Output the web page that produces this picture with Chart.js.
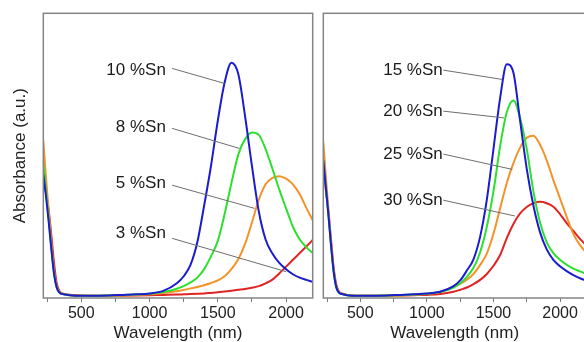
<!DOCTYPE html>
<html>
<head>
<meta charset="utf-8">
<script src="https://cdn.jsdelivr.net/npm/chart.js@4.4.1/dist/chart.umd.min.js"></script>
<style>
  html, body { margin: 0; padding: 0; overflow: hidden; background: #fff; width: 584px; height: 342px; }
  canvas { position: absolute; top: 0; }
  #left { left: 0; }
  #right { left: 300px; }
</style>
</head>
<body>
<canvas id="left" width="320" height="342"></canvas>
<canvas id="right" width="300" height="342"></canvas>
<script>
// ---- Data (wavelength in nm, absorbance in a.u.) ----
const wavelengths = [222, 240, 260, 280, 300, 320, 340, 370, 400, 500, 600, 700, 800, 900, 1000, 1100, 1200, 1250, 1300, 1350, 1400, 1450, 1500, 1550, 1600, 1650, 1700, 1750, 1800, 1850, 1900, 1950, 2000, 2050, 2100, 2150, 2195];

// Tick marks and tick labels of the wavelength axis
const tickValues = [250, 500, 750, 1000, 1250, 1500, 1750, 2000];
const tickLabels = ["", "500", "", "1000", "", "1500", "", "2000"];

// Left panel
const sn10 = [0.43, 0.36, 0.27, 0.17, 0.08, 0.03, 0.012, 0.006, 0.004, 0.001, 0.001, 0.002, 0.004, 0.006, 0.009, 0.018, 0.045, 0.07, 0.11, 0.19, 0.32, 0.46, 0.62, 0.755, 0.825, 0.785, 0.635, 0.46, 0.30, 0.20, 0.15, 0.117, 0.095, 0.077, 0.065, 0.057, 0.050];
const sn8  = [0.47, 0.38, 0.28, 0.175, 0.085, 0.032, 0.013, 0.007, 0.004, 0.001, 0.001, 0.002, 0.003, 0.005, 0.008, 0.014, 0.026, 0.035, 0.048, 0.065, 0.095, 0.14, 0.195, 0.29, 0.40, 0.50, 0.555, 0.578, 0.57, 0.52, 0.45, 0.377, 0.31, 0.245, 0.20, 0.172, 0.152];
const sn5  = [0.55, 0.43, 0.31, 0.19, 0.09, 0.034, 0.014, 0.007, 0.004, 0.001, 0.001, 0.001, 0.002, 0.003, 0.006, 0.011, 0.017, 0.021, 0.027, 0.032, 0.038, 0.046, 0.055, 0.07, 0.095, 0.13, 0.185, 0.26, 0.34, 0.395, 0.418, 0.424, 0.415, 0.395, 0.36, 0.31, 0.268];
const sn3  = [0.40, 0.37, 0.31, 0.22, 0.12, 0.045, 0.018, 0.008, 0.005, 0.002, 0.001, 0.001, 0.001, 0.002, 0.003, 0.004, 0.005, 0.006, 0.007, 0.008, 0.009, 0.011, 0.013, 0.016, 0.019, 0.022, 0.025, 0.029, 0.035, 0.045, 0.058, 0.08, 0.104, 0.128, 0.152, 0.176, 0.198];

// Right panel
const sn15 = [0.48, 0.39, 0.29, 0.18, 0.085, 0.03, 0.012, 0.006, 0.003, 0.001, 0.001, 0.002, 0.004, 0.006, 0.009, 0.015, 0.035, 0.055, 0.09, 0.13, 0.21, 0.34, 0.52, 0.70, 0.82, 0.79, 0.62, 0.45, 0.32, 0.225, 0.165, 0.128, 0.105, 0.088, 0.074, 0.063, 0.055];
const sn20 = [0.48, 0.39, 0.29, 0.18, 0.085, 0.03, 0.012, 0.006, 0.003, 0.001, 0.001, 0.002, 0.003, 0.005, 0.008, 0.014, 0.03, 0.045, 0.068, 0.10, 0.155, 0.245, 0.37, 0.53, 0.65, 0.692, 0.63, 0.52, 0.37, 0.26, 0.19, 0.152, 0.128, 0.11, 0.097, 0.087, 0.078];
const sn25 = [0.545, 0.43, 0.31, 0.19, 0.09, 0.034, 0.014, 0.007, 0.004, 0.001, 0.001, 0.001, 0.002, 0.004, 0.007, 0.015, 0.032, 0.043, 0.058, 0.078, 0.11, 0.15, 0.22, 0.31, 0.40, 0.47, 0.525, 0.56, 0.567, 0.535, 0.48, 0.41, 0.345, 0.28, 0.22, 0.18, 0.155];
const sn30 = [0.46, 0.38, 0.30, 0.20, 0.10, 0.04, 0.016, 0.008, 0.004, 0.001, 0.001, 0.001, 0.002, 0.003, 0.004, 0.007, 0.015, 0.022, 0.03, 0.042, 0.057, 0.078, 0.107, 0.145, 0.205, 0.255, 0.292, 0.315, 0.328, 0.333, 0.328, 0.316, 0.29, 0.258, 0.23, 0.202, 0.18];

// Labels (annotation positions in data units)
const leftLabels = ["10 %Sn", "8 %Sn", "5 %Sn", "3 %Sn"];
const leftLabelAbs = [0.80, 0.597, 0.399, 0.223];
const leftLeaderStartAbs = [0.805, 0.593, 0.392, 0.204];
const leftLeaderEndWl = [1549, 1659, 1769, 2001];
const leftLeaderEndAbs = [0.752, 0.522, 0.31, 0.086];

const rightLabels = ["15 %Sn", "20 %Sn", "25 %Sn", "30 %Sn"];
const rightLabelAbs = [0.799, 0.654, 0.502, 0.339];
const rightLeaderEndWl = [1567, 1579, 1641, 1661];
const rightLeaderEndAbs = [0.766, 0.630, 0.448, 0.283];

const colors = { blue: '#1c1ccf', green: '#2ee02e', orange: '#f5922a', red: '#e02424' };
const FONT = 'Liberation Sans, Arial, Helvetica, sans-serif';

function pts(vals) { return wavelengths.map((w, i) => ({ x: w, y: vals[i] })); }
function ds(vals, color) {
  return { data: pts(vals), borderColor: color, borderWidth: 2, pointRadius: 0,
           tension: 0.4, cubicInterpolationMode: 'monotone', fill: false };
}

function annotPlugin(labels, labelWl, labelAbs, startWl, startAbs, endWl, endAbs) {
  return {
    id: 'annot',
    afterDraw(chart) {
      const { ctx, chartArea: a, scales: { x, y } } = chart;
      ctx.save();
      ctx.strokeStyle = '#858585';
      ctx.lineWidth = 1.5;
      ctx.strokeRect(a.left, a.top, a.right - a.left, a.bottom - a.top);
      ctx.font = '17px ' + FONT;
      ctx.fillStyle = '#1a1a1a';
      ctx.textAlign = 'right';
      ctx.textBaseline = 'middle';
      labels.forEach((t, i) => {
        ctx.fillText(t, x.getPixelForValue(labelWl), y.getPixelForValue(labelAbs[i]));
        ctx.beginPath();
        ctx.strokeStyle = '#6e6e6e';
        ctx.lineWidth = 1;
        ctx.moveTo(x.getPixelForValue(startWl), y.getPixelForValue(startAbs[i]));
        ctx.lineTo(x.getPixelForValue(endWl[i]), y.getPixelForValue(endAbs[i]));
        ctx.stroke();
      });
      ctx.restore();
    }
  };
}

function xScale(minV, maxV) {
  return {
    type: 'linear', min: minV, max: maxV,
    afterBuildTicks: s => { s.ticks = tickValues.map(v => ({ value: v })); },
    ticks: {
      autoSkip: false, maxRotation: 0, padding: 2,
      color: '#222', font: { family: FONT, size: 16 },
      callback: (v, i) => tickLabels[i]
    },
    grid: { drawOnChartArea: false, drawTicks: true, tickLength: 4, color: '#7a7a7a', lineWidth: 1 },
    border: { display: false },
    title: { display: true, text: 'Wavelength (nm)', color: '#222',
             font: { family: FONT, size: 17, lineHeight: 1 }, padding: { top: 0, bottom: 0 } },
    afterFit: s => { s.height = 44; }
  };
}

const yMin = -0.007, yMax = 1.0;

new Chart(document.getElementById('left'), {
  type: 'line',
  data: { datasets: [ds(sn10, colors.blue), ds(sn8, colors.green), ds(sn5, colors.orange), ds(sn3, colors.red)] },
  options: {
    responsive: false, animation: false, devicePixelRatio: 1,
    layout: { padding: { left: 0, right: 7.3, top: 13.3, bottom: 0 } },
    plugins: { legend: { display: false }, tooltip: { enabled: false } },
    scales: {
      x: xScale(222, 2195),
      y: {
        min: yMin, max: yMax,
        ticks: { display: false },
        grid: { display: false },
        border: { display: false },
        title: { display: true, text: 'Absorbance (a.u.)', color: '#222',
                 font: { family: FONT, size: 17, lineHeight: 1 }, padding: { top: 12, bottom: 0 } },
        afterFit: s => { s.width = 43.3; }
      }
    }
  },
  plugins: [annotPlugin(leftLabels, 1120, leftLabelAbs, 1166, leftLeaderStartAbs, leftLeaderEndWl, leftLeaderEndAbs)]
});

new Chart(document.getElementById('right'), {
  type: 'line',
  data: { datasets: [ds(sn15, colors.blue), ds(sn20, colors.green), ds(sn25, colors.orange), ds(sn30, colors.red)] },
  options: {
    responsive: false, animation: false, devicePixelRatio: 1,
    layout: { padding: { left: 23.3, right: 14, top: 13.3, bottom: 0 } },
    plugins: { legend: { display: false }, tooltip: { enabled: false } },
    scales: {
      x: xScale(222, 2195),
      y: { display: false, min: yMin, max: yMax }
    }
  },
  plugins: [annotPlugin(rightLabels, 1119, rightLabelAbs, 1123, rightLabelAbs, rightLeaderEndWl, rightLeaderEndAbs)]
});
</script>
</body>
</html>
